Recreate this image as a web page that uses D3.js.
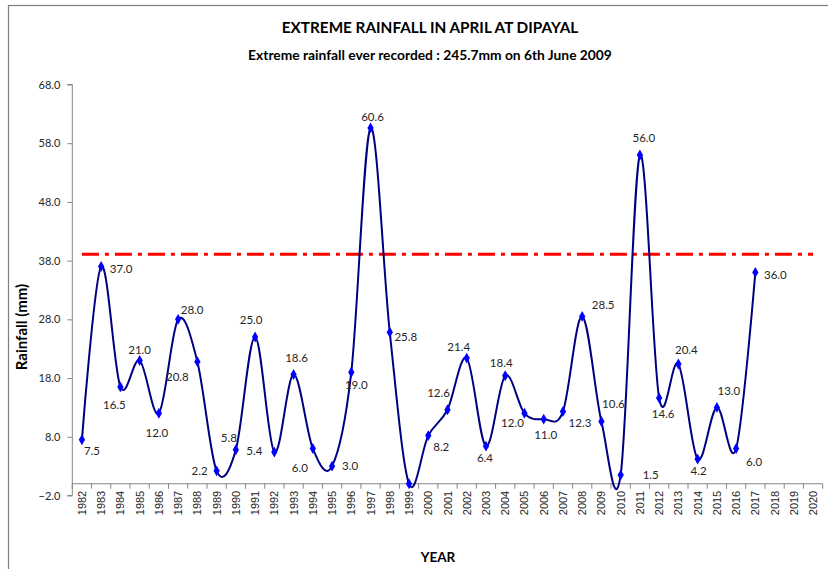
<!DOCTYPE html>
<html><head><meta charset="utf-8">
<script src="https://cdn.jsdelivr.net/npm/d3@7"></script>
<style>body{margin:0;background:#fff}svg{display:block}</style>
</head><body>
<script>
const years = d3.range(1982, 2021).map(String);
const dataYears = d3.range(1982, 2018).map(String);
const rainfall = [7.5,37.0,16.5,21.0,12.0,28.0,20.8,2.2,5.8,25.0,5.4,18.6,6.0,3.0,19.0,60.6,25.8,0.0,8.2,12.6,21.4,6.4,18.4,12.0,11.0,12.3,28.5,10.6,1.5,56.0,14.6,20.4,4.2,13.0,6.0,36.0];
const labelShown = [1,1,1,1,1,1,1,1,1,1,1,1,1,1,1,1,1,0,1,1,1,1,1,1,1,1,1,1,1,1,1,1,1,1,1,1];
// label placement offsets (dx, dy) relative to marker, as placed in the source chart
const labelDx = [10,20,-6,0,-2,14,-20,-17,-7,-4,-20,3,-13,18,5,2,16,0,13,-9,-8,-1,-4,-12,2,17,21,12,30,4,4,8,1,12,18,20];
const labelDy = [11,2,18,-10,20,-9,15,0,-12,-17,-1,-17,19,0,13,-11,5,0,11,-17,-11,12,-13,10,16,11,-11,-18,0,-17,16,-14,12,-16,13,3];
const threshold = 39.1;
const yTicks = [-2,8,18,28,38,48,58,68];
const title = "EXTREME RAINFALL IN APRIL AT DIPAYAL";
const subtitle = "Extreme rainfall ever recorded : 245.7mm on 6th June 2009";

const W = 828, H = 569;
const svg = d3.select("body").append("svg").attr("width", W).attr("height", H);
svg.append("rect").attr("x",8.5).attr("y",5.5).attr("width",900).attr("height",700)
  .attr("fill","#fff").attr("stroke","#7f7f7f").attr("stroke-width",1.2);

const x = d3.scaleBand().domain(years).range([72.3, 822.7]);
const y = d3.scaleLinear().domain([-2, 68]).range([495.5, 84.5]);
const cx = d => x(d) + x.bandwidth()/2;
const axisCol = "#868686";
const font = "Lato, 'Open Sans', sans-serif";

svg.append("text").attr("x",430).attr("y",33).attr("text-anchor","middle")
  .attr("font-family",font).attr("font-weight","bold").attr("font-size",15.3).attr("fill","#000").text(title);
svg.append("text").attr("x",430).attr("y",60).attr("text-anchor","middle")
  .attr("font-family",font).attr("font-weight","bold").attr("font-size",13.8).attr("fill","#000").text(subtitle);

// y axis
const yAxis = d3.axisLeft(y).tickValues(yTicks).tickFormat(d3.format(".1f")).tickSize(5).tickPadding(7);
const ga = svg.append("g").attr("transform","translate(72.3,0)").call(yAxis);
ga.select(".domain").attr("stroke",axisCol).attr("d","M-5,84.5H0V495.5H-5");
ga.selectAll(".tick line").attr("stroke",axisCol);
ga.selectAll(".tick text").attr("font-family",font).attr("font-size",11).attr("fill","#262626");

// x axis at value 0
const x0 = y(0);
const xAxis = d3.axisBottom(x).tickSize(0).tickPadding(0);
const gx = svg.append("g").attr("transform",`translate(0,${x0})`).call(xAxis);
gx.select(".domain").attr("stroke",axisCol).attr("d",`M72.3,0H822.7`);
gx.selectAll(".tick text").attr("font-family","'Liberation Sans', Arial, sans-serif").attr("font-size",11)
  .attr("fill","#262626").attr("text-anchor","end").attr("dy",null)
  .attr("transform","translate(4,7) rotate(-90)");
svg.append("g").selectAll("line").data(d3.range(years.length+1)).join("line")
  .attr("x1",i=>72.3+i*x.step()).attr("x2",i=>72.3+i*x.step())
  .attr("y1",x0).attr("y2",x0+5).attr("stroke",axisCol);

// axis titles
svg.append("text").attr("transform","translate(27,327) rotate(-90)").attr("text-anchor","middle")
  .attr("font-family",font).attr("font-weight","bold").attr("font-size",15).attr("fill","#000").text("Rainfall (mm)");
svg.append("text").attr("x",438).attr("y",562).attr("text-anchor","middle")
  .attr("font-family",font).attr("font-weight","bold").attr("font-size",13.5).attr("fill","#000").text("YEAR");

// threshold line
svg.append("line").attr("x1",cx("1982")).attr("x2",cx("2020")).attr("y1",y(threshold)).attr("y2",y(threshold))
  .attr("stroke","#ff0000").attr("stroke-width",3).attr("stroke-dasharray","17,6,4,6");

// series
const pts = dataYears.map((yr,i)=>({yr, v:rainfall[i], i}));
const line = d3.line().x(d=>cx(d.yr)).y(d=>y(d.v)).curve(d3.curveCardinal.tension(0));
svg.append("path").datum(pts).attr("d",line).attr("fill","none").attr("stroke","#000080").attr("stroke-width",2);
svg.append("g").selectAll("path").data(pts).join("path")
  .attr("d", d3.symbol().type(d3.symbolDiamond).size(34))
  .attr("transform", d=>`translate(${cx(d.yr)},${y(d.v)})`).attr("fill","#0000ff");
svg.append("g").selectAll("text").data(pts.filter(d=>labelShown[d.i])).join("text")
  .attr("x", d=>cx(d.yr)+labelDx[d.i]).attr("y", d=>y(d.v)+labelDy[d.i]).attr("dy","0.35em")
  .attr("text-anchor","middle").attr("font-family",font).attr("font-size",11.5).attr("fill","#262626")
  .text(d=>d.v.toFixed(1));
</script>
</body></html>
